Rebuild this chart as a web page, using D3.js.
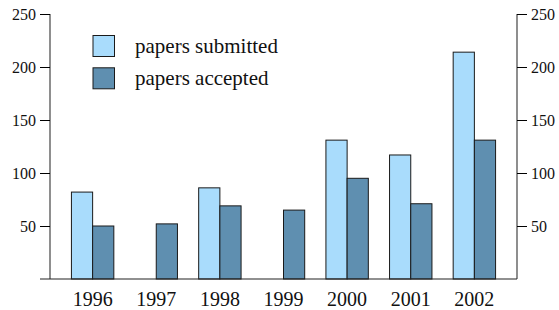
<!doctype html>
<html>
<head>
<script src="https://cdn.jsdelivr.net/npm/d3@7"></script>
<style>
  body { margin: 0; background: #fff; }
  text { font-family: "Liberation Serif", "DejaVu Serif", serif; fill: #111; }
</style>
</head>
<body>
<svg id="chart" width="559" height="310"></svg>
<script>
// data
const years = ["1996", "1997", "1998", "1999", "2000", "2001", "2002"];
const submitted = [82, null, 86, null, 131, 117, 214];
const accepted = [50, 52, 69, 65, 95, 71, 131];
const yTicks = [50, 100, 150, 200, 250];
const seriesNames = ["papers submitted", "papers accepted"];
const seriesColors = ["#a9dcfc", "#5f8fb0"];

const serif = "'Liberation Serif', 'DejaVu Serif', serif";
const svg = d3.select("#chart");
const plotL = 50, plotR = 517, plotT = 14, plotB = 279;

let x = d3.scalePoint().domain(years).range([plotL, plotR]).padding(0.67);
let y = d3.scaleLinear().domain([0, 250]).range([plotB, plotT]);
const barW = 21.2;

// bars
const series = [submitted, accepted];
series.forEach((vals, s) => {
  svg.append("g")
    .selectAll("rect")
    .data(years.map((yr, i) => ({ yr: yr, v: vals[i] })).filter(d => d.v != null))
    .enter()
    .append("rect")
    .attr("x", d => x(d.yr) + (s === 0 ? -barW : 0))
    .attr("y", d => y(d.v))
    .attr("width", barW)
    .attr("height", d => plotB - y(d.v))
    .attr("fill", seriesColors[s])
    .attr("stroke", "#1a1a1a")
    .attr("stroke-width", 1);
});

// left axis
let leftAxis = svg.append("g")
  .attr("transform", `translate(${plotL},0)`)
  .call(d3.axisLeft(y).tickValues(yTicks).tickSize(10).tickPadding(4))
  .attr("font-family", serif).attr("font-size", 16);
leftAxis.select(".domain").attr("d", `M0,${plotT}V${plotB}`).attr("stroke", "#444").attr("stroke-width", 1.2);

// right axis
let rightAxis = svg.append("g")
  .attr("transform", `translate(${plotR},0)`)
  .call(d3.axisRight(y).tickValues(yTicks).tickSize(10).tickPadding(4))
  .attr("font-family", serif).attr("font-size", 16);
rightAxis.select(".domain").attr("d", `M0,${plotT}V${plotB}`).attr("stroke", "#444").attr("stroke-width", 1.2);

svg.selectAll(".tick text").attr("fill", "#111");

// baseline
svg.append("line")
  .attr("x1", plotL - 10).attr("x2", plotR)
  .attr("y1", plotB).attr("y2", plotB)
  .attr("stroke", "#222").attr("stroke-width", 1.2);

// year labels
svg.append("g")
  .selectAll("text")
  .data(years)
  .enter()
  .append("text")
  .attr("x", d => x(d))
  .attr("y", 306)
  .attr("text-anchor", "middle")
  .attr("font-family", serif)
  .attr("font-size", 20)
  .text(d => d);

// legend
const legend = svg.append("g");
seriesNames.forEach((name, i) => {
  legend.append("rect")
    .attr("x", 93).attr("y", 35.5 + i * 32.3)
    .attr("width", 21.5).attr("height", 21)
    .attr("fill", seriesColors[i])
    .attr("stroke", "#1a1a1a");
  legend.append("text")
    .attr("x", 135).attr("y", 52.5 + i * 32.3)
    .attr("font-family", serif)
    .attr("font-size", 21)
    .text(name);
});
</script>
</body>
</html>
